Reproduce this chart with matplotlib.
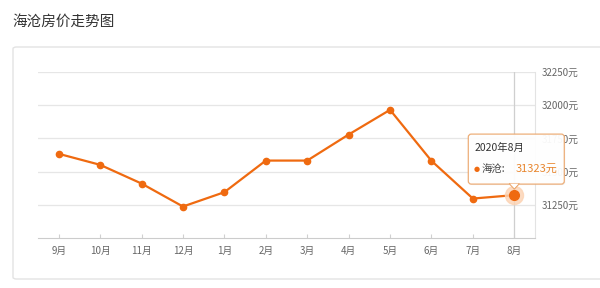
import matplotlib.pyplot as plt
from matplotlib.patches import FancyBboxPatch, Polygon

plt.rcParams['font.family'] = ['Noto Sans CJK SC', 'DejaVu Sans']

# data
months = ['9月', '10月', '11月', '12月', '1月', '2月', '3月', '4月', '5月', '6月', '7月', '8月']
prices = [31634, 31551, 31410, 31237, 31345, 31583, 31583, 31779, 31965, 31581, 31297, 31323]
y_ticks = [31250, 31500, 31750, 32000, 32250]
tip_title = '2020年8月'
tip_name = '海沧'

orange = '#ef6a10'
W, H = 600, 288

fig = plt.figure(figsize=(W / 100, H / 100), dpi=100)

# title and card
fig.text(12 / W, 1 - 22 / H, '海沧房价走势图', fontsize=10.5, color='#333333', va='center', ha='left')
card = FancyBboxPatch((13 / W, (H - 279) / H), 1.0, (279 - 47) / H,
                      boxstyle='round,pad=0,rounding_size=0.006',
                      transform=fig.transFigure, facecolor='white',
                      edgecolor='#e3e3e3', linewidth=1, zorder=-1)
fig.patches.append(card)

ax = fig.add_axes([38 / W, (H - 238) / H, (535 - 38) / W, (238 - 72) / H])
ax.set_facecolor('none')
x = list(range(len(months)))

ax.set_xlim(-0.5, len(months) - 0.5)
ax.set_ylim(31000, 32250)
ax.set_yticks(y_ticks)
ax.set_yticklabels([f'{v}元' for v in y_ticks])
ax.yaxis.tick_right()
ax.tick_params(axis='y', length=0, pad=5, labelsize=7, labelcolor='#666666')
ax.set_xticks(x)
ax.set_xticklabels(months)
ax.tick_params(axis='x', length=3, direction='in', color='#d0d0d0', pad=6,
               labelsize=7, labelcolor='#666666')
ax.grid(axis='y', color='#e6e6e6', linewidth=0.9)
ax.set_axisbelow(True)
for s in ['left', 'top']:
    ax.spines[s].set_visible(False)
ax.spines['right'].set_color('#e3e3e3')
ax.spines['bottom'].set_color('#cccccc')

# crosshair on last month
ax.axvline(x[-1], color='#cfcfcf', linewidth=0.9, zorder=1)

ax.plot(x, prices, color=orange, linewidth=1.6, marker='o', markersize=4.5, zorder=3)
ax.plot(x[-1], prices[-1], 'o', color='#fcd3b3', markersize=13, alpha=0.8, zorder=3)
ax.plot(x[-1], prices[-1], 'o', color=orange, markersize=7, zorder=4)

# tooltip, placed in pixels relative to the highlighted point
pt = ax.transData.transform((x[-1], prices[-1]))
shadow = FancyBboxPatch((pt[0] - 45, pt[1] + 10), 96, 50,
                        boxstyle='round,pad=0,rounding_size=3',
                        transform=None, facecolor='#000000', edgecolor='none',
                        alpha=0.06, zorder=4)
fig.patches.append(shadow)
box = FancyBboxPatch((pt[0] - 46, pt[1] + 11), 96, 50,
                     boxstyle='round,pad=0,rounding_size=3',
                     transform=None, facecolor='white', edgecolor='#ecaa72',
                     linewidth=0.9, alpha=0.95, zorder=5)
fig.patches.append(box)
tri = Polygon([[pt[0] - 5, pt[1] + 11.5], [pt[0] + 5, pt[1] + 11.5], [pt[0], pt[1] + 6]],
              closed=True, transform=None, facecolor='white', edgecolor='#ecaa72',
              linewidth=0.9, zorder=6)
fig.patches.append(tri)
cover = Polygon([[pt[0] - 4.3, pt[1] + 11.5], [pt[0] + 4.3, pt[1] + 11.5], [pt[0], pt[1] + 7.2]],
                closed=True, transform=None, facecolor='white', edgecolor='none', zorder=7)
fig.patches.append(cover)

fig.text((pt[0] - 40) / W, (pt[1] + 47) / H, tip_title, fontsize=7.5, color='#333333',
         va='center', ha='left', zorder=8)
fig.text((pt[0] - 38) / W, (pt[1] + 26) / H, '●', fontsize=5, color=orange,
         va='center', ha='center', zorder=8, family='DejaVu Sans')
fig.text((pt[0] - 33) / W, (pt[1] + 26) / H, f'{tip_name}:', fontsize=7.5, color='#444444',
         va='center', ha='left', zorder=8)
fig.text((pt[0] + 1) / W, (pt[1] + 26) / H, f'{prices[-1]}元', fontsize=8, color='#e8862e',
         va='center', ha='left', zorder=8)

fig.savefig('out.png', dpi=100)
